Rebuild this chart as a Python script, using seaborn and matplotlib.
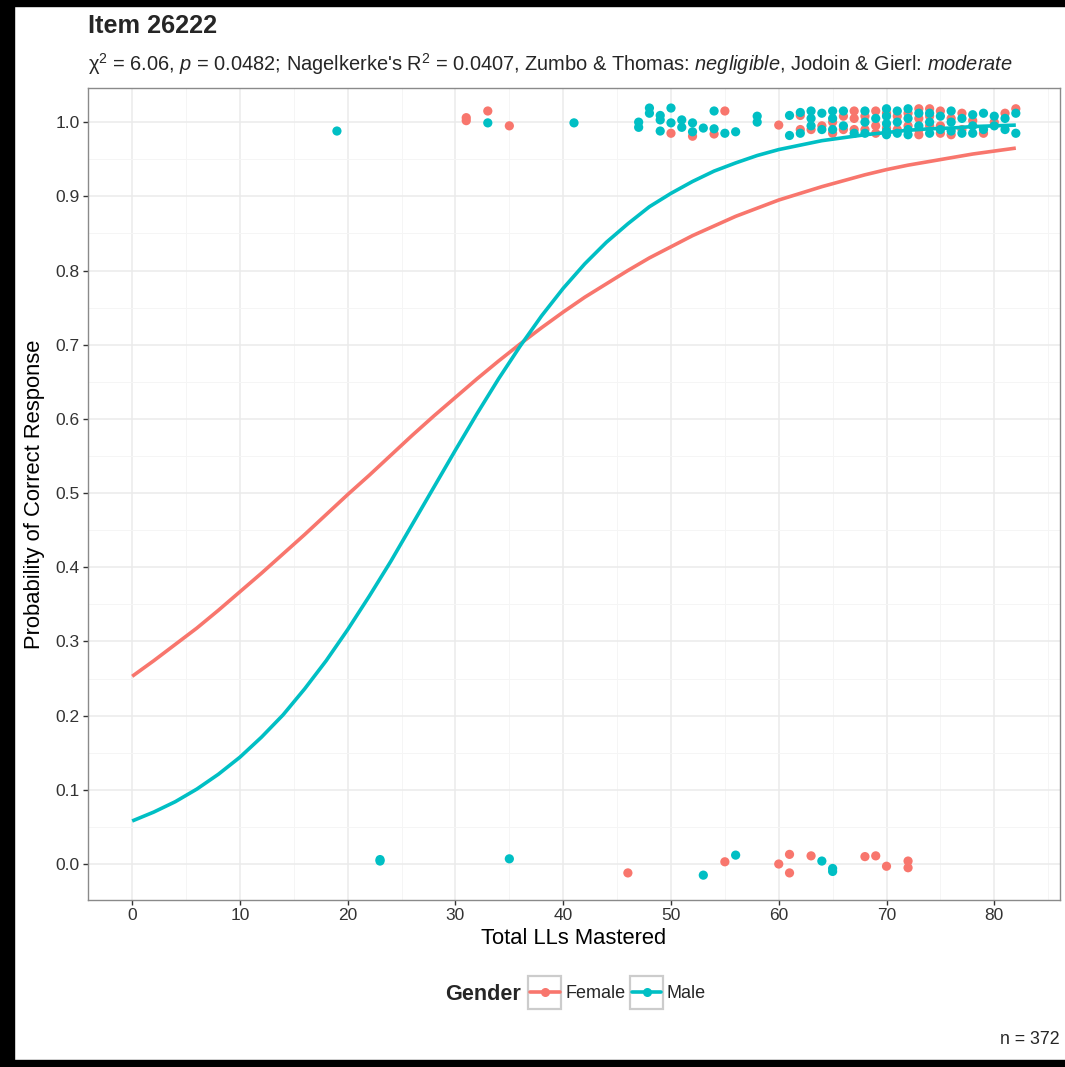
import numpy as np
import pandas as pd
import matplotlib
matplotlib.use("Agg")
import matplotlib.pyplot as plt
import seaborn as sns
from matplotlib.lines import Line2D
from matplotlib.patches import Rectangle
from matplotlib.transforms import IdentityTransform

# ---------------- data ----------------
genders = ["Female", "Male"]
colors = ["#F8766D", "#00BFC4"]

# fitted probability curves
curve_x = [0, 2, 4, 6, 8, 10, 12, 14, 16, 18, 20, 22, 24, 26, 28, 30, 32, 34, 36, 38, 40,
           42, 44, 46, 48, 50, 52, 54, 56, 58, 60, 62, 64, 66, 68, 70, 72, 74, 76, 78, 80, 82]
female_curve = [0.253, 0.274, 0.296, 0.318, 0.342, 0.367, 0.392, 0.418, 0.444, 0.471, 0.498,
                0.524, 0.551, 0.578, 0.604, 0.629, 0.654, 0.678, 0.701, 0.723, 0.744,
                0.764, 0.782, 0.800, 0.817, 0.832, 0.847, 0.860, 0.873, 0.884, 0.895,
                0.904, 0.913, 0.921, 0.929, 0.936, 0.942, 0.947, 0.952, 0.957, 0.961, 0.965]
male_curve = [0.058, 0.070, 0.084, 0.101, 0.121, 0.144, 0.171, 0.201, 0.236, 0.274, 0.316,
              0.361, 0.408, 0.458, 0.508, 0.558, 0.607, 0.654, 0.698, 0.739, 0.776,
              0.809, 0.838, 0.863, 0.886, 0.904, 0.920, 0.934, 0.945, 0.955, 0.963,
              0.969, 0.975, 0.979, 0.983, 0.986, 0.989, 0.991, 0.992, 0.994, 0.995, 0.996]

female_x = [46, 55, 60, 61, 61, 63, 68, 69, 70, 72, 72,
            31, 31, 33, 35, 50, 52, 54, 55, 60, 62, 62,
            63, 64, 65, 65, 66, 66, 67, 67, 67, 68, 68, 69, 69, 69, 70, 70, 71, 71, 72, 72,
            73, 73, 73, 73, 74, 74, 74, 75, 75, 75, 76, 76, 77, 77, 78, 79, 80, 81, 82]
female_y = [-0.012, 0.003, 0.000, 0.013, -0.012, 0.011, 0.010, 0.011, -0.003, 0.004, -0.005,
            1.006, 1.002, 1.015, 0.995, 0.985, 0.981, 0.984, 1.015, 0.996, 1.009, 0.990,
            0.990, 0.995, 1.000, 0.985, 1.008, 0.990, 1.015, 1.005, 0.990, 1.008, 0.990,
            1.015, 0.995, 0.985, 1.012, 0.992, 1.008, 0.990, 1.012, 0.995,
            1.018, 1.005, 0.990, 0.983, 1.018, 1.008, 0.995, 1.015, 0.995, 0.985,
            1.005, 0.983, 1.012, 0.990, 1.002, 0.985, 1.000, 1.012, 1.018]

male_x = [23, 23, 35, 53, 56, 64, 65, 65,
          19, 33, 41, 47, 47, 48, 48, 49, 49, 49, 50, 50, 51, 51, 52, 52, 53, 54, 54, 55, 56,
          58, 58, 61, 61,
          62, 62, 63, 63, 63, 64, 64, 65, 65, 65, 66, 66, 67, 68, 68, 68, 69,
          70, 70, 70, 70, 70, 71, 71, 71, 72, 72, 72, 72, 73, 73, 74, 74, 74, 75, 75,
          76, 76, 76, 77, 77, 78, 78, 78, 79, 79, 80, 80, 81, 81, 82, 82]
male_y = [0.004, 0.006, 0.007, -0.015, 0.012, 0.004, -0.006, -0.010,
          0.988, 0.999, 0.999, 1.000, 0.993, 1.019, 1.012, 1.009, 1.003, 0.988, 1.019, 0.999,
          1.003, 0.993, 0.999, 0.987, 0.992, 1.015, 0.991, 0.985, 0.987,
          1.008, 1.000, 1.009, 0.982,
          1.013, 0.985, 1.015, 1.005, 0.995, 1.012, 0.990, 1.015, 1.005, 0.990, 1.015, 0.995,
          0.985, 1.015, 1.000, 0.985, 1.005,
          1.018, 1.008, 0.998, 0.988, 0.983, 1.015, 1.000, 0.985, 1.018, 1.005, 0.990, 0.983,
          1.012, 0.995, 1.012, 1.000, 0.985, 1.008, 0.990,
          1.015, 1.000, 0.988, 1.005, 0.985, 1.010, 0.995, 0.985, 1.012, 0.990, 1.008, 0.995,
          1.005, 0.990, 1.012, 0.985]

x_ticks = [0, 10, 20, 30, 40, 50, 60, 70, 80]
y_ticks = [0.0, 0.1, 0.2, 0.3, 0.4, 0.5, 0.6, 0.7, 0.8, 0.9, 1.0]

title = "Item 26222"
subtitle = (r"χ$^2$ = 6.06, $\mathit{p}$ = 0.0482; Nagelkerke's R$^2$ = 0.0407, "
            r"Zumbo & Thomas: $\mathit{negligible}$, Jodoin & Gierl: $\mathit{moderate}$")
caption = "n = 372"

# ---------------- tables ----------------
points = pd.concat([
    pd.DataFrame({"x": female_x, "y": female_y, "Gender": "Female"}),
    pd.DataFrame({"x": male_x, "y": male_y, "Gender": "Male"}),
], ignore_index=True)
curves = pd.concat([
    pd.DataFrame({"x": curve_x, "p": female_curve, "Gender": "Female"}),
    pd.DataFrame({"x": curve_x, "p": male_curve, "Gender": "Male"}),
], ignore_index=True)
palette = dict(zip(genders, colors))

# ---------------- style ----------------
sns.set_theme(style="white")
plt.rcParams["font.family"] = ["Liberation Sans", "DejaVu Sans"]
plt.rcParams["mathtext.fontset"] = "custom"
plt.rcParams["mathtext.rm"] = "Liberation Sans"
plt.rcParams["mathtext.it"] = "Liberation Sans:italic"
plt.rcParams["mathtext.bf"] = "Liberation Sans:bold"

W, H = 1065, 1067
fig = plt.figure(figsize=(W / 100, H / 100), dpi=100)
fig.patch.set_facecolor("white")
ax = fig.add_axes([88 / W, 1 - 900 / H, (1060 - 88) / W, (900 - 88) / H])

sns.scatterplot(data=points, x="x", y="y", hue="Gender", palette=palette,
                s=44, linewidth=0, alpha=1, legend=False, ax=ax, zorder=3)
sns.lineplot(data=curves, x="x", y="p", hue="Gender", palette=palette,
             linewidth=2.6, legend=False, ax=ax, errorbar=None, zorder=4)
for ln in ax.lines:
    ln.set_solid_joinstyle("round")
    ln.set_solid_capstyle("butt")

ax.set_xlim(-4.1, 86.1)
ax.set_ylim(-0.0485, 1.046)
ax.set_xticks(x_ticks)
ax.set_xticklabels([str(v) for v in x_ticks])
ax.set_yticks(y_ticks)
ax.set_yticklabels([f"{v:.1f}" for v in y_ticks])
ax.set_xticks(np.arange(5, 86, 10), minor=True)
ax.set_yticks(np.arange(0.05, 1.0, 0.1), minor=True)
ax.grid(which="major", color="#EBEBEB", linewidth=1.1)
ax.grid(which="minor", color="#F5F5F5", linewidth=0.7)
ax.set_axisbelow(True)
for sp in ax.spines.values():
    sp.set_color("#8A8A8A")
    sp.set_linewidth(1.0)
ax.tick_params(which="major", length=3.5, width=1.0, color="#333333",
               labelsize=12.5, labelcolor="#333333", pad=2.5, bottom=True, left=True)
ax.tick_params(which="minor", length=0)

ax.set_xlabel("Total LLs Mastered", fontsize=15.8, color="black")
ax.set_ylabel("Probability of Correct Response", fontsize=15.8, color="black")
ax.xaxis.set_label_coords(0.5, (900 - 928) / 812)
ax.yaxis.set_label_coords((45 - 88) / 972, 0.5)

fig.text(88 / W, 1 - 26 / H, title, fontsize=18.2, fontweight="bold", va="center", ha="left")
fig.text(88 / W, 1 - 64 / H, subtitle, fontsize=14.4, va="center", ha="left")
fig.text(1060 / W, 1 - 1040 / H, caption, fontsize=12.8, va="center", ha="right")

# legend
handles = [Line2D([], [], color=c, lw=2.6, marker="o", markersize=6.5, markeredgewidth=0)
           for c in colors]
leg = fig.legend(handles, genders, loc="center left", bbox_to_anchor=(530 / W, 1 - 994 / H),
                 ncol=2, frameon=False, fontsize=13, handlelength=1.65,
                 handletextpad=0.3, columnspacing=0.35, borderpad=0, borderaxespad=0)
fig.text(521 / W, 1 - 994 / H, "Gender", fontsize=15.6, fontweight="bold", va="center", ha="right")

fig.canvas.draw()
renderer = fig.canvas.get_renderer()
for h in leg.legend_handles:
    bb = h.get_window_extent(renderer)
    cx, cy = (bb.x0 + bb.x1) / 2, (bb.y0 + bb.y1) / 2
    fig.add_artist(Rectangle((cx - 16.5, cy - 16.5), 33, 33, transform=IdentityTransform(),
                             fill=False, edgecolor="#CCCCCC", linewidth=1.6, zorder=1))

# black frame edges of the screenshot
fig.add_artist(Rectangle((0, 0), 14 / W, 1, transform=fig.transFigure, color="black", zorder=10))
fig.add_artist(Rectangle((0, 1 - 6 / H), 1, 6 / H, transform=fig.transFigure, color="black", zorder=10))
fig.add_artist(Rectangle((0, 0), 1, 7 / H, transform=fig.transFigure, color="black", zorder=10))

fig.savefig("out.png", dpi=100, facecolor="white")
